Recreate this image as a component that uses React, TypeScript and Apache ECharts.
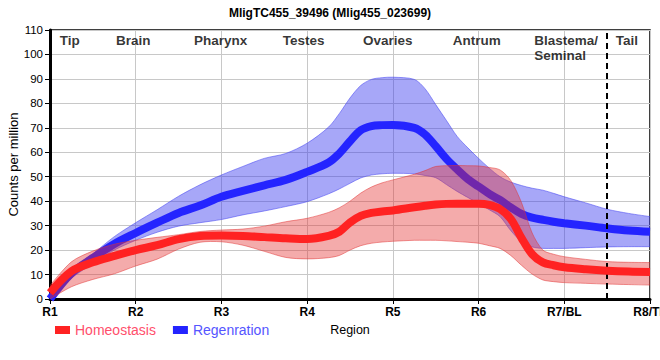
import React, { useEffect, useRef } from 'react';
import * as echarts from 'echarts';

const chartTitle = 'MligTC455_39496 (Mlig455_023699)';
const xTickLabels = ['R1', 'R2', 'R3', 'R4', 'R5', 'R6', 'R7/BL', 'R8/TL'];
const regionNames = ['Tip', 'Brain', 'Pharynx', 'Testes', 'Ovaries', 'Antrum', 'Blastema/\nSeminal', 'Tail'];
const regionPos = [0.23, 0.97, 1.99, 2.96, 3.94, 4.98, 5.65, 6.73];
const tailBoundary = 6.5;

const xs = [0, 0.25, 0.5, 0.75, 1, 1.25, 1.5, 1.75, 2, 2.25, 2.5, 2.75, 3,
  3.25, 3.375, 3.5, 3.625, 3.75, 3.875, 4, 4.25,
  4.375, 4.5, 4.625, 4.75, 4.875, 5, 5.125, 5.25, 5.375, 5.5, 5.625, 5.75, 5.875, 6,
  6.25, 6.5, 6.75, 7];

const homeoMean = [2.5, 11.3, 15, 17.6, 20, 22, 24.5, 25.8, 26, 25.8, 25.3, 24.8, 24.5,
  25.8, 27.5, 31.3, 34, 35.2, 35.8, 36.2, 37.5,
  38.1, 38.6, 38.9, 39, 39, 39, 38.5, 36.8, 32.8, 25, 18.3, 15, 13.8, 13,
  12.2, 11.6, 11.2, 11];
const homeoLow = [0, 5, 8, 10.3, 13.5, 16.3, 20.4, 23.2, 23.4, 22, 19.5, 17, 16.4,
  16.9, 17.8, 20, 21.8, 22.8, 23.3, 23.6, 24,
  24, 24, 23.8, 23.5, 23.2, 22.8, 21.8, 20.7, 17.8, 13.8, 10.2, 7.8, 7.1, 6.7,
  6.4, 6.1, 5.9, 5.7];
const homeoHigh = [5.5, 15.2, 19.6, 22.4, 24, 25.2, 26.3, 27.6, 28.2, 28.6, 29.8, 31.6, 33,
  35.4, 37.3, 40, 43.3, 45.8, 47.5, 48.7, 51,
  52.5, 54.2, 54.5, 54.6, 54.5, 54.4, 53.8, 52.8, 48.5, 39.5, 27, 20, 18.3, 17.3,
  16.2, 15.3, 15, 14.9];

const regenMean = [0, 10.5, 16.8, 22.5, 27, 31.2, 35.2, 38.2, 41.8, 44.2, 46.5, 48.7, 52,
  55.8, 59.5, 64.5, 69, 70.7, 71.1, 71.2, 70,
  67.3, 62.5, 57.3, 53, 49, 46, 43, 40.5, 37.5, 34.8, 33.3, 32.4, 31.6, 31,
  30, 28.9, 28, 27.5];
const regenLow = [0, 8.5, 14.5, 20, 24, 27.3, 29.8, 31.2, 32.5, 34.4, 36, 37.8, 39.8,
  43, 45, 47.3, 49.5, 50.7, 51.2, 51.4, 51.2,
  50.5, 49.6, 46.8, 44, 41.5, 39.1, 36.5, 33.7, 28, 23.5, 21.3, 20.7, 20.7, 20.7,
  21, 21.3, 21.4, 21.4];
const regenHigh = [0, 12, 18.5, 25.5, 31.2, 36.5, 42, 46.7, 50.7, 54.2, 57.5, 59.5, 63.7,
  70.3, 75.8, 82.2, 87.3, 89.8, 90.5, 90.7, 89.8,
  86, 79.5, 73, 66.5, 61.8, 57.5, 53.5, 50, 47.8, 46.4, 45.3, 44.5, 43.2, 41.8,
  39.3, 36.7, 35, 33.7];

const FONT = '"Liberation Sans", Arial, sans-serif';

function bandSeries(name: string, lo: number[], hi: number[], fill: string, edge: string, z: number) {
  return {
    name,
    type: 'custom',
    z,
    silent: true,
    clip: true,
    data: [0],
    renderItem: (_params: any, api: any) => {
      const top = xs.map((x, i) => api.coord([x, hi[i]]));
      const bottom = xs.map((x, i) => api.coord([x, lo[i]])).reverse();
      const n = top.length;
      const ring = [top[0], ...top, top[n - 1], bottom[0], ...bottom, bottom[n - 1]];
      return {
        type: 'group',
        children: [
          {
            type: 'polygon',
            shape: { points: ring, smooth: 0.3 },
            style: { fill, stroke: 'none' },
          },
          {
            type: 'polyline',
            shape: { points: top, smooth: 0.3 },
            style: { fill: 'none', stroke: edge, lineWidth: 1 },
          },
          {
            type: 'polyline',
            shape: { points: bottom, smooth: 0.3 },
            style: { fill: 'none', stroke: edge, lineWidth: 1 },
          },
        ],
      };
    },
  };
}

export default function App() {
  const ref = useRef<HTMLDivElement>(null);
  useEffect(() => {
    document.body.style.margin = '0';
    if (!ref.current) return;
    const chart = echarts.init(ref.current, undefined, { renderer: 'svg' });
    const pts = (arr: number[]) => xs.map((x, i) => [x, arr[i]]);
    const smooth = 0.35;
    const option: any = {
      animation: false,
      textStyle: { fontFamily: FONT },
      title: {
        text: chartTitle,
        left: 'center',
        top: 2,
        textStyle: { fontSize: 12, fontWeight: 'bold', color: '#000', fontFamily: FONT },
      },
      legend: {
        left: 50,
        top: 318,
        icon: 'rect',
        itemWidth: 15,
        itemHeight: 8,
        itemGap: 17,
        textStyle: { fontSize: 14, fontFamily: FONT },
        data: [
          { name: 'Homeostasis', textStyle: { color: '#ff4f6c' } },
          { name: 'Regenration', textStyle: { color: '#5555ff' } },
        ],
      },
      grid: {
        left: 50, right: 10, top: 30, bottom: 61,
        outerBoundsMode: 'none',
        containLabel: false,
        show: true, borderColor: '#000', borderWidth: 1.5,
      },
      xAxis: {
        type: 'value', min: 0, max: 7, interval: 1,
        name: 'Region', nameLocation: 'middle', nameGap: 24, nameMoveOverlap: false,
        nameTextStyle: { fontSize: 12.5, color: '#000', fontFamily: FONT },
        axisLine: { lineStyle: { color: '#000', width: 3 } },
        axisTick: { show: true, length: 5, lineStyle: { color: '#000', width: 1 } },
        axisLabel: {
          formatter: (v: number) => xTickLabels[Math.round(v)] ?? '',
          fontSize: 12, fontWeight: 'bold', color: '#000', margin: 7, fontFamily: FONT,
          showMaxLabel: true, hideOverlap: false,
        },
        splitLine: { show: true, lineStyle: { color: '#c8c8c8', width: 1 } },
      },
      yAxis: {
        type: 'value', min: 0, max: 110, interval: 10,
        name: 'Counts per million', nameLocation: 'middle', nameGap: 30, nameMoveOverlap: false,
        nameTextStyle: { fontSize: 13, color: '#000', fontFamily: FONT },
        axisLine: { show: true, lineStyle: { color: '#000', width: 3 } },
        axisTick: { show: true, length: 5, lineStyle: { color: '#000', width: 1 } },
        axisLabel: { fontSize: 11.5, color: '#000', margin: 7, fontFamily: FONT },
        splitLine: { show: true, lineStyle: { color: '#c8c8c8', width: 1 } },
      },
      series: [
        bandSeries('regenBand', regenLow, regenHigh, 'rgba(55,55,240,0.44)', 'rgba(70,70,240,0.55)', 2),
        {
          name: 'Regenration', type: 'line', data: pts(regenMean), smooth,
          symbol: 'none', color: '#2424ff', lineStyle: { color: '#2424ff', width: 8 }, z: 3,
        },
        bandSeries('homeoBand', homeoLow, homeoHigh, 'rgba(228,45,45,0.4)', 'rgba(225,50,50,0.5)', 4),
        {
          name: 'Homeostasis', type: 'line', data: pts(homeoMean), smooth,
          symbol: 'none', color: '#ff2222', lineStyle: { color: '#ff2222', width: 8 }, z: 5,
        },
        {
          name: 'regions', type: 'scatter', symbolSize: 0, z: 6, silent: true,
          data: regionNames.map((n, i) => ({
            value: [regionPos[i], 108.6],
            label: {
              show: true,
              formatter: n,
              position: [0, 0],
              align: n.startsWith('Blastema') ? 'left' : 'center',
              verticalAlign: 'top',
              fontSize: 13.5,
              lineHeight: 15,
              fontWeight: 'bold',
              color: '#000',
              fontFamily: FONT,
            },
          })),
          markLine: {
            silent: true,
            symbol: ['none', 'none'],
            label: { show: false },
            lineStyle: { color: '#000', type: [6, 4], width: 2 },
            data: [{ xAxis: tailBoundary }],
          },
        },
      ],
    };
    chart.setOption(option);
    return () => chart.dispose();
  }, []);
  return <div ref={ref} style={{ width: 660, height: 360 }} />;
}
